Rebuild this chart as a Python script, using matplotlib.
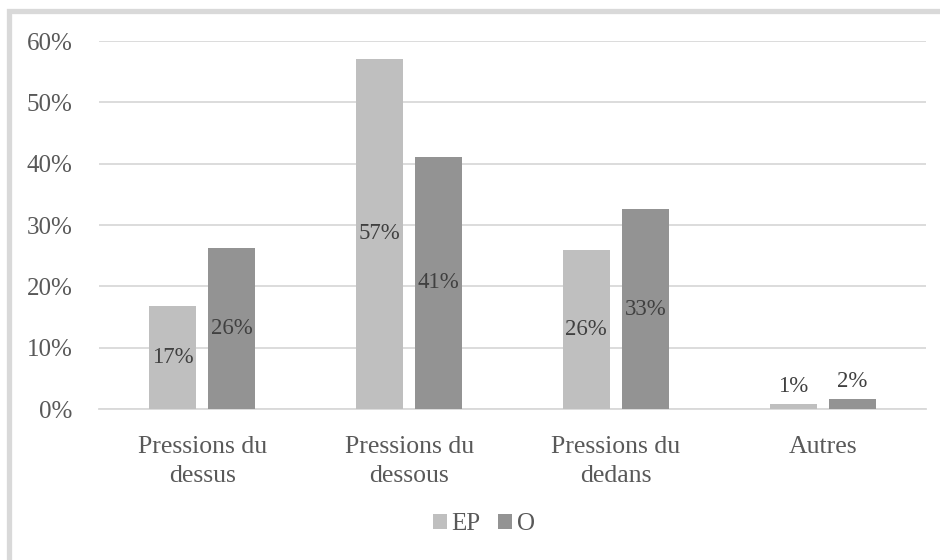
import matplotlib
matplotlib.use("Agg")
import matplotlib.pyplot as plt
import numpy as np
from matplotlib.patches import Rectangle

categories = ["Pressions du\ndessus", "Pressions du\ndessous", "Pressions du\ndedans", "Autres"]
series_names = ["EP", "O"]
ep_values = [0.168, 0.571, 0.260, 0.008]
o_values = [0.262, 0.411, 0.326, 0.016]
y_ticks = [0.0, 0.1, 0.2, 0.3, 0.4, 0.5, 0.6]
colors = ["#BFBFBF", "#939393"]

plt.rcParams['font.family'] = ['Liberation Serif', 'DejaVu Serif']

fig = plt.figure(figsize=(9.4, 5.6), dpi=100)
fig.patch.set_facecolor("white")
# chart area frame (extends beyond right/bottom edges)
fig.patches.append(Rectangle((8.5/940, -0.1), 1.2, 1 - 11/560 + 0.1, transform=fig.transFigure,
                             fill=False, edgecolor="#D9D9D9", linewidth=3.8, zorder=0))

ax = fig.add_axes([99/940, 1 - 409/560, (926 - 99)/940, (409 - 41)/560])
x = np.arange(len(categories))
width = 0.227
off = 0.143

bars = []
for vals, sign, c, name in [(ep_values, -1, colors[0], series_names[0]), (o_values, 1, colors[1], series_names[1])]:
    b = ax.bar(x + sign * off, vals, width=width, color=c, label=name, zorder=3)
    bars.append(b)
    for xi, v in zip(x, vals):
        if v > 0.05:
            ax.text(xi + sign * off, v / 2, f"{v:.0%}", ha="center", va="center",
                    fontsize=16.5, color="#404040", zorder=4)
        else:
            ax.annotate(f"{v:.0%}", (xi + sign * off, v), xytext=(0, 7), textcoords="offset pixels",
                        ha="center", va="bottom", fontsize=16.5, color="#404040", zorder=4)

ax.set_xlim(-0.5, len(categories) - 0.5)
ax.set_ylim(0, 0.6)
ax.set_yticks(y_ticks)
ax.set_yticklabels([f"{t:.0%}" for t in y_ticks])
ax.set_xticks(x)
ax.set_xticklabels(categories, linespacing=1.38)
ax.tick_params(axis="y", length=0, pad=19, labelsize=18, labelcolor="#595959")
ax.tick_params(axis="x", length=0, pad=19.5, labelsize=18.5, labelcolor="#595959")
ax.grid(axis="y", color="#D9D9D9", linewidth=1.3, zorder=0)
ax.set_axisbelow(True)
for s in ["top", "right", "left"]:
    ax.spines[s].set_visible(False)
ax.spines["bottom"].set_color("#D9D9D9")
ax.spines["bottom"].set_linewidth(1.3)

leg = fig.legend(handles=bars, labels=series_names, loc="center", bbox_to_anchor=(484/940, 1 - 524/560),
                 ncol=2, frameon=False, fontsize=18, handlelength=0.56, handleheight=0.56,
                 handletextpad=0.2, columnspacing=0.7, labelcolor="#595959")

fig.savefig("out.png", dpi=100, facecolor="white")
